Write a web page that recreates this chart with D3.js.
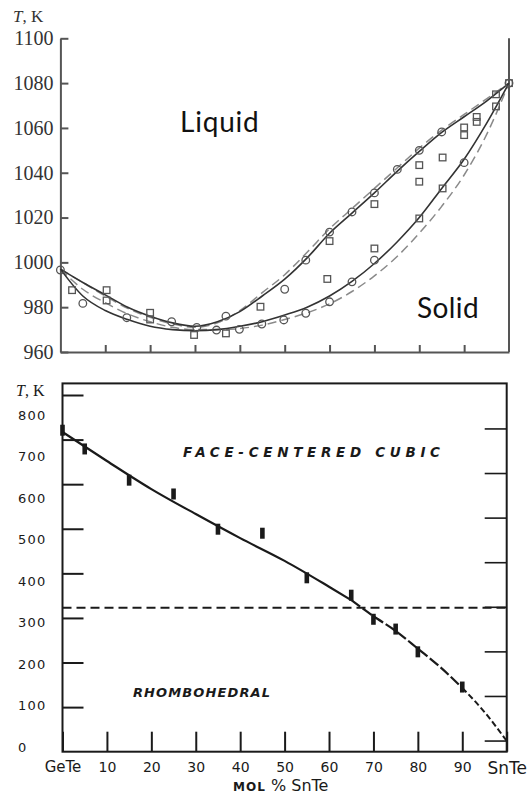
<!DOCTYPE html>
<html lang="en">
<head>
  <meta charset="utf-8">
  <title>GeTe - SnTe</title>
  <script src="https://d3js.org/d3.v7.min.js"></script>
  <style>
    body { margin: 0; background: #fff; }
    svg { display: block; }
  </style>
</head>
<body>
<svg id="chart" width="527" height="799"></svg>
<script>
  // ---- top panel: liquidus / solidus (T, K vs mol % SnTe) ----
  const curvePct = [0, 5, 10, 15, 20, 25, 30, 35, 40, 45, 50, 55, 60, 65, 70, 75, 80, 85, 90, 95, 100]
  const liqSolid = [997, 991, 985.5, 980, 976, 973, 971.5, 973.5, 978, 985, 992.5, 1002, 1013, 1022, 1031, 1040.5, 1049.5, 1058, 1065, 1072, 1080]
  const liqDashed = [997, 991, 985, 979.5, 975.5, 972.5, 971, 973, 978.5, 986.5, 994.5, 1004.5, 1015, 1024, 1033, 1042, 1051, 1059, 1066, 1073, 1080]
  const solSolid = [997, 985, 978.5, 974.5, 971.5, 970, 969.5, 970, 971.5, 973.5, 976.5, 980, 985, 991.5, 999.5, 1009, 1020, 1033, 1046, 1062, 1080]
  const solDashed = [997, 988, 982, 977, 973.5, 971, 970, 970, 970.5, 972, 974.5, 977.5, 981.5, 987, 994, 1002.5, 1013, 1025, 1039, 1057, 1080]

  const circles = [[0, 996.6], [5, 981.7], [14.8, 975.3], [24.8, 973.5], [30.4, 971], [34.8, 969.8], [36.9, 976],
    [39.9, 970.1], [44.9, 972.5], [49.8, 974.3], [50, 988], [54.7, 977.3], [54.7, 1001], [60, 1013.5], [60, 982.4],
    [65, 991.3], [65, 1022.5], [70, 1031], [70, 1001], [75.1, 1041.5], [80, 1050], [85, 1058.2], [90, 1044.5], [100, 1080]]
  const squares = [[2.6, 987.6], [10.3, 987.6], [10.3, 983], [20, 977.5], [20, 974.5], [29.8, 967.6], [36.9, 968.3],
    [44.6, 980.2], [59.5, 992.6], [60, 1009.5], [70, 1026], [70, 1006.2], [80, 1043.4], [80, 1036], [80, 1019.6],
    [85.2, 1046.8], [85.2, 1033], [90, 1060.2], [90, 1056.8], [92.8, 1064.9], [92.8, 1062.7], [97.1, 1075], [97.1, 1069.6], [100, 1080]]

  const topYTicks = [960, 980, 1000, 1020, 1040, 1060, 1080, 1100]
  const topXTicks = [10, 20, 30, 40, 50, 60, 70, 80, 90]

  // ---- bottom panel: rhombohedral / fcc transition ----
  const fitPct = [0, 10, 20, 30, 40, 50, 60, 65, 70, 75, 80, 85, 90, 95, 100]
  const fitT = [717, 652, 589, 533, 479, 428, 370, 340, 304, 271, 231, 190, 143, 89, 24]
  const obsPct = [0, 5, 15, 25, 35, 45, 55, 65, 70, 75, 80, 90]
  const obsT = [721, 679, 609, 578, 499, 490, 390, 351, 297, 275, 224, 145]
  const roomT = 323

  const botYLabels = [0, 100, 200, 300, 400, 500, 600, 700, 800]
  const botLeftTicks = [100, 200, 300, 400, 500, 600, 700, 800]
  const botRightTicks = [25, 125, 225, 325, 425, 525, 625, 725]
  const botXTicks = [0, 10, 20, 30, 40, 50, 60, 70, 80, 90, 100]

  const svg = d3.select("#chart")

  // scales
  const xT = d3.scaleLinear().domain([0, 100]).range([60.4, 509])
  const yT = d3.scaleLinear().domain([960, 1100]).range([352, 38.3])
  const xB = d3.scaleLinear().domain([0, 100]).range([62.5, 506.7])
  const yB = d3.scaleLinear().domain([0, 800]).range([751.7, 395])
  // the printed numbers on the lower panel do not sit on its tick marks
  const yBLabel = d3.scaleLinear().domain([0, 800]).range([747, 415])

  // ===== top panel =====
  const topG = svg.append("g")
  const axisColor = "#555"

  topG.append("g")
    .attr("transform", `translate(${xT(0)},0)`)
    .call(d3.axisLeft(yT).tickValues(topYTicks).tickFormat(d3.format("d"))
      .tickSizeInner(-8).tickSizeOuter(0).tickPadding(7))
    .call(g => g.selectAll("path, line").attr("stroke", axisColor).attr("stroke-width", 2))
    .call(g => g.selectAll("text")
      .attr("font-family", "Liberation Serif, serif")
      .attr("font-size", 20)
      .attr("fill", "#333"))

  topG.append("g")
    .attr("transform", `translate(0,${yT(960)})`)
    .call(d3.axisBottom(xT).tickValues(topXTicks).tickSizeInner(-7).tickSizeOuter(0).tickFormat(""))
    .call(g => g.selectAll("path, line").attr("stroke", axisColor).attr("stroke-width", 2))

  topG.append("line")
    .attr("x1", xT(100)).attr("x2", xT(100))
    .attr("y1", yT(1100)).attr("y2", yT(960))
    .attr("stroke", axisColor).attr("stroke-width", 2)

  const topLine = d3.line()
    .x((d, i) => xT(curvePct[i]))
    .y(d => yT(d))
    .curve(d3.curveMonotoneX)

  topG.append("path").attr("d", topLine(liqDashed))
    .attr("fill", "none").attr("stroke", "#8a8a8a").attr("stroke-width", 1.5).attr("stroke-dasharray", "9,5")
  topG.append("path").attr("d", topLine(solDashed))
    .attr("fill", "none").attr("stroke", "#8a8a8a").attr("stroke-width", 1.5).attr("stroke-dasharray", "9,5")
  topG.append("path").attr("d", topLine(liqSolid))
    .attr("fill", "none").attr("stroke", "#333").attr("stroke-width", 1.6)
  topG.append("path").attr("d", topLine(solSolid))
    .attr("fill", "none").attr("stroke", "#333").attr("stroke-width", 1.6)

  topG.selectAll("circle.obs")
    .data(circles)
    .enter()
    .append("circle")
      .attr("class", "obs")
      .attr("cx", d => xT(d[0]))
      .attr("cy", d => yT(d[1]))
      .attr("r", 3.8)
      .attr("fill", "none")
      .attr("stroke", "#555")
      .attr("stroke-width", 1.3)

  topG.selectAll("rect.obs")
    .data(squares)
    .enter()
    .append("rect")
      .attr("class", "obs")
      .attr("x", d => xT(d[0]) - 3.3)
      .attr("y", d => yT(d[1]) - 3.3)
      .attr("width", 6.6)
      .attr("height", 6.6)
      .attr("fill", "none")
      .attr("stroke", "#555")
      .attr("stroke-width", 1.3)

  const tk = topG.append("text")
    .attr("x", 13).attr("y", 21.5)
    .attr("font-family", "Liberation Serif, serif")
    .attr("font-size", 17)
    .attr("fill", "#333")
  tk.append("tspan").attr("font-style", "italic").text("T")
  tk.append("tspan").text(", K")

  topG.append("text")
    .attr("x", 180).attr("y", 132)
    .attr("font-family", "Lato, sans-serif")
    .attr("font-size", 28)
    .attr("letter-spacing", 0.8)
    .attr("fill", "#111")
    .text("Liquid")
  topG.append("text")
    .attr("x", 417).attr("y", 318)
    .attr("font-family", "Lato, sans-serif")
    .attr("font-size", 28)
    .attr("letter-spacing", 0.4)
    .attr("fill", "#111")
    .text("Solid")

  // ===== bottom panel =====
  const botG = svg.append("g")
  const ink = "#1a1a1a"
  const letter = "DejaVu Sans, sans-serif"

  botG.append("rect")
    .attr("x", xB(0)).attr("y", yB(826))
    .attr("width", xB(100) - xB(0)).attr("height", yB(0) - yB(826))
    .attr("fill", "none").attr("stroke", ink).attr("stroke-width", 2)

  botG.append("g")
    .attr("transform", `translate(${xB(0)},0)`)
    .call(d3.axisLeft(yB).tickValues(botLeftTicks).tickSizeInner(-21).tickSizeOuter(0).tickFormat(""))
    .call(g => g.select(".domain").remove())
    .call(g => g.selectAll("line").attr("stroke", ink).attr("stroke-width", 2))

  botG.append("g")
    .attr("transform", `translate(${xB(100)},0)`)
    .call(d3.axisRight(yB).tickValues(botRightTicks).tickSizeInner(-22).tickSizeOuter(0).tickFormat(""))
    .call(g => g.select(".domain").remove())
    .call(g => g.selectAll("line").attr("stroke", ink).attr("stroke-width", 1.6))

  botG.append("g")
    .attr("transform", `translate(0,${yB(0)})`)
    .call(d3.axisBottom(xB).tickValues(botXTicks).tickSizeInner(-20).tickSizeOuter(0).tickPadding(10)
      .tickFormat(d => d === 0 ? "GeTe" : d === 100 ? "SnTe" : d))
    .call(g => g.select(".domain").remove())
    .call(g => g.selectAll("line").attr("stroke", ink).attr("stroke-width", 2))
    .call(g => g.selectAll("text")
      .attr("font-family", letter)
      .attr("font-size", d => d === 100 ? 17 : d === 0 ? 15 : 14)
      .attr("fill", ink))

  botG.selectAll("text.ylab")
    .data(botYLabels)
    .enter()
    .append("text")
      .attr("class", "ylab")
      .attr("x", 18)
      .attr("y", d => yBLabel(d))
      .attr("dy", "0.36em")
      .attr("font-family", letter)
      .attr("font-size", 13)
      .attr("letter-spacing", 1.2)
      .attr("fill", ink)
      .text(d => d)

  const tk2 = botG.append("text")
    .attr("x", 16).attr("y", 396)
    .attr("font-family", "Liberation Serif, serif")
    .attr("font-size", 16)
    .attr("fill", ink)
  tk2.append("tspan").attr("font-style", "italic").text("T")
  tk2.append("tspan").text(", K")

  const xl = botG.append("text")
    .attr("x", 233).attr("y", 791)
    .attr("font-family", letter)
    .attr("fill", ink)
  xl.append("tspan").attr("font-size", 12).attr("font-weight", "bold").attr("letter-spacing", 1).text("MOL ")
  xl.append("tspan").attr("font-size", 16).text("% SnTe")

  // horizontal transition line at room temperature
  botG.append("line")
    .attr("x1", xB(0)).attr("x2", xB(100))
    .attr("y1", yB(roomT)).attr("y2", yB(roomT))
    .attr("stroke", ink).attr("stroke-width", 2).attr("stroke-dasharray", "9,5")

  const botLine = d3.line()
    .x(d => xB(d[0]))
    .y(d => yB(d[1]))
    .curve(d3.curveMonotoneX)
  const fit = fitPct.map((p, i) => [p, fitT[i]])

  botG.append("path").attr("d", botLine(fit.filter(d => d[0] <= 65)))
    .attr("fill", "none").attr("stroke", ink).attr("stroke-width", 2.2)
  botG.append("path").attr("d", botLine(fit.filter(d => d[0] >= 65 && d[0] <= 90)))
    .attr("fill", "none").attr("stroke", ink).attr("stroke-width", 2.2).attr("stroke-dasharray", "11,3")
  botG.append("path").attr("d", botLine(fit.filter(d => d[0] >= 90)))
    .attr("fill", "none").attr("stroke", ink).attr("stroke-width", 2).attr("stroke-dasharray", "6,3")

  botG.selectAll("rect.obs")
    .data(obsPct)
    .enter()
    .append("rect")
      .attr("class", "obs")
      .attr("x", (d, i) => xB(d) - 2.3)
      .attr("y", (d, i) => yB(obsT[i]) - 5.5)
      .attr("width", 4.6)
      .attr("height", 11)
      .attr("fill", ink)

  botG.append("text")
    .attr("x", 183).attr("y", 457)
    .attr("font-family", letter)
    .attr("font-style", "italic")
    .attr("font-weight", "bold")
    .attr("font-size", 13.5)
    .attr("textLength", 257)
    .attr("lengthAdjust", "spacing")
    .attr("fill", ink)
    .text("FACE-CENTERED  CUBIC")

  botG.append("text")
    .attr("x", 133).attr("y", 697)
    .attr("font-family", letter)
    .attr("font-style", "italic")
    .attr("font-weight", "bold")
    .attr("font-size", 13)
    .attr("textLength", 137)
    .attr("lengthAdjust", "spacing")
    .attr("fill", ink)
    .text("RHOMBOHEDRAL")
</script>
</body>
</html>
